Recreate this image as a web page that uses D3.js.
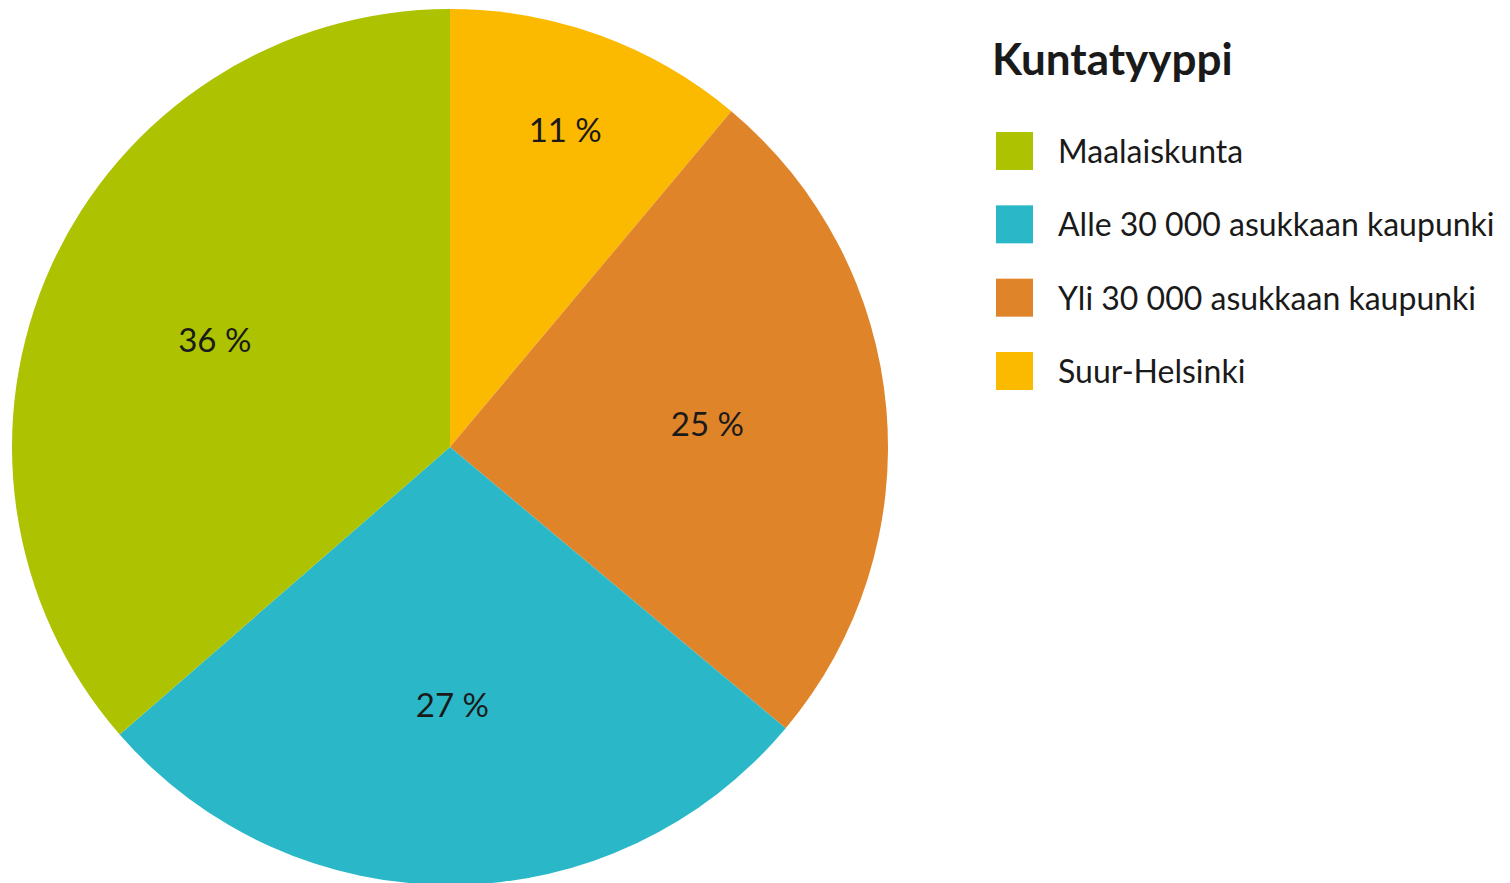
<!DOCTYPE html>
<html>
<head>
<meta charset="utf-8">
<script src="https://cdn.jsdelivr.net/npm/d3@7"></script>
<style>
  body { margin: 0; background: #fff; }
  text { font-family: Lato, "Open Sans", sans-serif; fill: #1a1a1a; }
</style>
</head>
<body>
<div id="corpo"></div>
<script>
// kuntatyypit, alkaen klo 12 myötäpäivään
var tyypit = ["Suur-Helsinki", "Yli 30 000 asukkaan kaupunki", "Alle 30 000 asukkaan kaupunki", "Maalaiskunta"];
var osuudet = [11.1, 25.0, 27.5, 36.4];
var osuusTekstit = ["11 %", "25 %", "27 %", "36 %"];
var varit = ["#fbb900", "#e0842a", "#2ab8c8", "#adc200"];
// legendan järjestys
var legendaJarjestys = ["Maalaiskunta", "Alle 30 000 asukkaan kaupunki", "Yli 30 000 asukkaan kaupunki", "Suur-Helsinki"];
var otsikko = "Kuntatyyppi";

var width = 1510, height = 883;
var cx = 450, cy = 447, radius = 438;

var data = tyypit.map(function(t, i) {
    return { tipo: t, valor: osuudet[i], label: osuusTekstit[i] };
});

var color = d3.scaleOrdinal().domain(tyypit).range(varit);

var svg = d3.select("#corpo").append("svg")
    .attr("width", width)
    .attr("height", height);

var pie = d3.pie()
    .sort(null)
    .value(function(d) { return d.valor; })(data);

var arc = d3.arc()
    .outerRadius(radius)
    .innerRadius(0);

var g = svg.append("g")
    .attr("transform", "translate(" + cx + "," + cy + ")");

var slices = g.selectAll(".arc")
    .data(pie)
    .enter().append("g")
    .attr("class", "arc");

slices.append("path")
    .attr("d", arc)
    .style("fill", function(d) { return color(d.data.tipo); });

// pienille siivuille label kauemmas keskeltä
function labelArc(d) {
    var r = d.data.valor < 15 ? radius * 0.77 : radius * 0.59;
    return d3.arc().innerRadius(r).outerRadius(r);
}

slices.append("text")
    .attr("transform", function(d) { return "translate(" + labelArc(d).centroid(d) + ")"; })
    .attr("text-anchor", "middle")
    .attr("dy", "0.36em")
    .style("font-size", "33px")
    .text(function(d) { return d.data.label; });

// legenda
var legend = svg.append("g")
    .attr("transform", "translate(992,0)");

legend.append("text")
    .attr("x", 0)
    .attr("y", 75)
    .style("font-size", "44px")
    .style("font-weight", "bold")
    .text(otsikko);

var ly = d3.scalePoint().domain(legendaJarjestys).range([151, 371]);

var items = legend.selectAll(".item")
    .data(legendaJarjestys)
    .enter().append("g")
    .attr("class", "item")
    .attr("transform", function(d) { return "translate(0," + ly(d) + ")"; });

items.append("rect")
    .attr("x", 4)
    .attr("y", -19)
    .attr("width", 37)
    .attr("height", 38)
    .style("fill", function(d) { return color(d); });

items.append("text")
    .attr("x", 66)
    .attr("y", 12)
    .style("font-size", "32px")
    .text(function(d) { return d; });
</script>
</body>
</html>
